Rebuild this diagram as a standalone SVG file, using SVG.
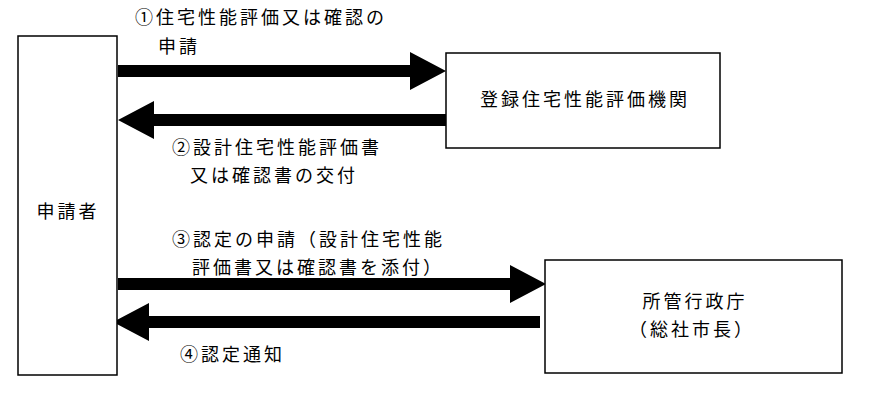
<svg xmlns="http://www.w3.org/2000/svg" width="886" height="400" viewBox="0 0 886 400">
<style>
.b{fill:#fff;stroke:#000;stroke-width:1.5}
.t{font-family:"Noto Sans CJK JP","Noto Sans CJK SC",sans-serif;font-size:18px;letter-spacing:3px;fill:#000}
.c{text-anchor:middle}
</style>
<rect width="886" height="400" fill="#fff"/>
<g id="connectors" fill="#000">
<polygon points="118,65 410,65 410,52 446,71 410,90 410,77 118,77"/>
<polygon points="446,114 154,114 154,101 118,120 154,139 154,126 446,126"/>
<polygon points="118,278 510,278 510,265 546,284 510,303 510,290 118,290"/>
<polygon points="540,316 149,316 149,303 113,322 149,341 149,328 540,328"/>
</g>
<g id="applicant"><rect class="b" x="18" y="36" width="99" height="339"/><text class="t c" x="68" y="218">申請者</text></g>
<g id="agency"><rect class="b" x="446" y="53" width="274" height="95"/><text class="t c" x="585" y="106">登録住宅性能評価機関</text></g>
<g id="gov"><rect class="b" x="545" y="260" width="297" height="113"/><text class="t c" x="695" y="308">所管行政庁</text><text class="t c" x="692" y="336">（総社市長）</text></g>
<g id="labels">
<text class="t" x="135" y="24">①住宅性能評価又は確認の</text>
<text class="t" x="158" y="53">申請</text>
<text class="t" x="172" y="154">②設計住宅性能評価書</text>
<text class="t" x="190" y="182">又は確認書の交付</text>
<text class="t" x="172" y="246">③認定の申請（設計住宅性能</text>
<text class="t" x="192" y="274">評価書又は確認書を添付）</text>
<text class="t" x="180" y="361">④認定通知</text>
</g>
</svg>
